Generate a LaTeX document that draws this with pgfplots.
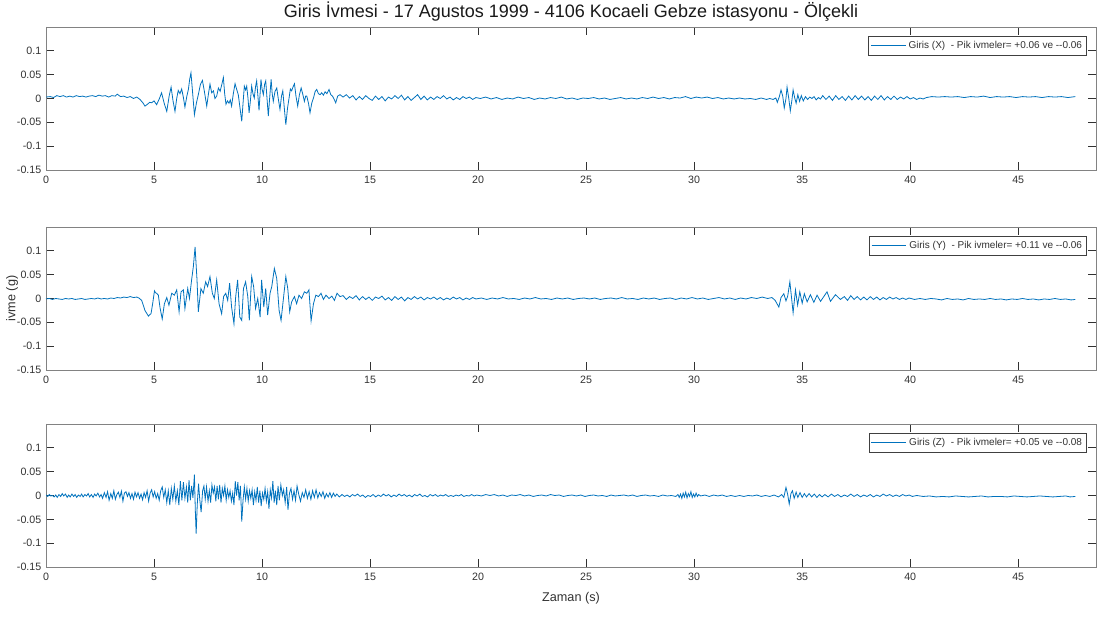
\documentclass[border=0pt]{standalone}
\usepackage{fontspec}
\setmainfont{Liberation Sans}
\usepackage{pgfplots}
\pgfplotsset{compat=1.18}
\definecolor{mblue}{RGB}{0,114,189}
\definecolor{axgray}{RGB}{130,130,130}
\definecolor{txtgray}{RGB}{50,50,50}
\pgfplotsset{
  sub/.style={
    scale only axis, width=787.5pt, height=107.25pt,
    xmin=0, xmax=48.6, ymin=-0.15, ymax=0.15,
    xtick={0,5,10,15,20,25,30,35,40,45},
    xticklabels={0,5,10,15,20,25,30,35,40,45},
    ytick={-0.15,-0.1,-0.05,0,0.05,0.1},
    yticklabels={-0.15,-0.1,-0.05,0,0.05,0.1},
    tick align=inside, major tick length=6pt,
    axis line style={axgray, line width=0.6pt},
    every tick/.style={txtgray, line width=0.5pt},
    tick label style={font=\fontsize{8}{9}\selectfont, text=txtgray},
    xticklabel style={yshift=-1pt},
    legend cell align=left,
    legend style={draw=black!75, line width=0.4pt, fill=white, font=\fontsize{7.5}{9}\selectfont, text=txtgray,
      at={(0.9914,0.937)}, anchor=north east, inner sep=1.5pt, row sep=0pt},
    legend image code/.code={\pgfsetstrokecolor{mblue}\draw[color=mblue, draw=mblue, line width=0.7pt] (0pt,0.3pt) -- (26pt,0.3pt);},
    cycle list={{mblue, no markers, line width=0.6pt, line join=round}},
  }
}
\begin{document}
\begin{tikzpicture}
\useasboundingbox (0,0) rectangle (828pt,462.75pt);
% ---------------- X ----------------
\begin{axis}[sub, at={(34.5pt,335.25pt)}, anchor=south west,
  title={Giris İvmesi - 17 Agustos 1999 - 4106 Kocaeli Gebze istasyonu - Ölçekli},
  every axis title/.style={at={(axis description cs:0.5,1.105)}, anchor=center, font=\fontsize{13.5}{15}\selectfont, text=black!90}]
\addplot+[mblue, no markers, line width=0.6pt] coordinates {
(0,0.003) (0.2,0.004) (0.35,0.002) (0.5,0.006) (0.65,0.004) (0.8,0.006) (0.95,0.003) (1.1,0.005) (1.25,0.003) (1.4,0.006)
(1.55,0.004) (1.7,0.005) (1.85,0.003) (2.0,0.005) (2.15,0.006) (2.3,0.004) (2.45,0.007) (2.6,0.005) (2.75,0.006) (2.9,0.003)
(3.05,0.006) (3.2,0.005) (3.3,0.009) (3.45,0.004) (3.6,0.005) (3.75,0.002) (3.9,0.004) (4.05,0.000) (4.2,0.003) (4.35,-0.002)
(4.5,-0.010) (4.58,-0.016) (4.70,-0.012) (4.80,-0.008) (4.89,-0.009) (5.00,-0.005) (5.12,-0.013) (5.25,0.000) (5.35,0.012)
(5.47,-0.010) (5.59,-0.027) (5.70,0.005) (5.79,0.024) (5.88,-0.005) (5.97,-0.027) (6.05,0.000) (6.12,0.017) (6.20,0.010)
(6.28,0.020) (6.36,0.002) (6.43,-0.018) (6.52,0.005) (6.59,0.019) (6.65,0.040) (6.71,0.054) (6.79,0.010) (6.87,-0.034)
(6.96,-0.010) (7.05,0.008) (7.15,0.030) (7.24,0.038) (7.33,0.015) (7.44,-0.016) (7.52,0.010) (7.59,0.030) (7.67,0.012)
(7.75,0.016) (7.82,0.000) (7.90,0.005) (7.98,0.022) (8.06,0.015) (8.14,0.030) (8.21,0.044) (8.27,0.010) (8.33,-0.012)
(8.40,-0.005) (8.47,-0.010) (8.53,-0.003) (8.59,-0.016) (8.67,0.010) (8.75,0.031) (8.82,0.020) (8.90,0.008) (8.98,-0.020)
(9.06,-0.048) (9.12,-0.010) (9.18,0.026) (9.24,0.018) (9.29,0.026) (9.35,0.000) (9.40,-0.030) (9.46,-0.005) (9.52,0.026)
(9.58,0.010) (9.64,0.001) (9.70,0.025) (9.75,0.037) (9.80,0.010) (9.86,-0.025) (9.91,0.010) (9.95,0.040) (10.00,0.020)
(10.06,0.008) (10.12,0.030) (10.17,0.037) (10.23,0.000) (10.29,-0.037) (10.35,0.000) (10.42,0.040) (10.47,0.010)
(10.52,-0.006) (10.60,0.015) (10.68,0.022) (10.75,0.000) (10.83,-0.023) (10.90,0.005) (10.96,0.016) (11.03,-0.020)
(11.10,-0.055) (11.18,-0.020) (11.25,0.001) (11.31,0.020) (11.37,0.016) (11.44,0.025) (11.50,0.031) (11.57,0.005)
(11.65,-0.016) (11.73,0.008) (11.81,0.022) (11.88,0.010) (11.96,-0.006) (12.02,0.005) (12.07,0.005) (12.15,-0.010)
(12.22,-0.030) (12.30,-0.010) (12.38,0.001) (12.46,0.015) (12.53,0.019) (12.61,0.010) (12.69,0.008) (12.76,0.012)
(12.84,0.007) (12.92,0.014) (13.00,0.010) (13.10,0.019) (13.18,0.008) (13.26,0.005) (13.34,-0.002) (13.41,-0.009)
(13.50,0.005) (13.61,0.008) (13.75,0.003) (13.9,0.008) (14.05,0.001) (14.2,0.006) (14.35,-0.003) (14.5,0.004) (14.65,-0.002)
(14.8,0.006) (14.95,0.000) (15.1,-0.004) (15.25,0.005) (15.4,-0.002) (15.55,0.004) (15.7,-0.005) (15.85,0.003) (16.0,-0.001)
(16.15,0.006) (16.3,0.000) (16.45,0.007) (16.6,-0.003) (16.75,0.004) (16.9,-0.004) (17.05,0.002) (17.2,0.008) (17.35,-0.002)
(17.5,0.005) (17.65,-0.003) (17.8,0.003) (17.95,-0.002) (18.1,0.004) (18.25,0.000) (18.4,0.006) (18.55,-0.001) (18.7,0.003)
(18.85,-0.003) (19.0,0.002) (19.15,-0.002) (19.3,0.004) (19.45,0.000) (19.6,0.003) (19.75,-0.002) (19.9,0.002)
(20.1,0.000) (20.35,0.003) (20.6,-0.001) (20.85,0.002) (21.1,-0.002) (21.35,0.001) (21.6,-0.001) (21.85,0.003) (22.1,0.000)
(22.35,0.002) (22.6,-0.002) (22.85,0.001) (23.1,-0.001) (23.35,0.002) (23.6,0.000) (23.85,0.003) (24.1,-0.001) (24.35,0.001)
(24.6,-0.002) (24.85,0.001) (25.1,0.000) (25.35,0.002) (25.6,-0.001) (25.85,0.001) (26.1,-0.002) (26.35,0.000) (26.6,0.002)
(26.85,-0.001) (27.1,0.001) (27.35,-0.001) (27.6,0.002) (27.85,0.000) (28.1,0.003) (28.35,0.000) (28.6,0.002) (28.85,-0.001)
(29.1,0.002) (29.35,0.001) (29.6,0.004) (29.85,0.000) (30.1,0.003) (30.35,0.001) (30.6,0.003) (30.85,0.000) (31.1,0.002)
(31.35,-0.001) (31.6,0.001) (31.85,-0.001) (32.1,0.001) (32.35,-0.001) (32.6,0.000) (32.85,-0.002) (33.1,0.001) (33.35,-0.002)
(33.5,0.000) (33.65,-0.002) (33.78,0.001) (33.85,-0.008) (33.95,0.005) (34.02,0.018) (34.10,0.005) (34.17,-0.020) (34.25,0.000)
(34.30,0.024) (34.38,0.000) (34.45,-0.026) (34.52,-0.005) (34.58,0.018) (34.65,0.002) (34.72,-0.010) (34.80,0.008)
(34.88,-0.006) (34.96,0.006) (35.05,-0.005) (35.15,0.004) (35.25,-0.002) (35.35,0.003) (35.45,0.000) (35.55,0.004)
(35.65,-0.003) (35.75,0.002) (35.85,-0.001) (35.95,0.006) (36.1,-0.002) (36.25,0.005) (36.4,-0.004) (36.55,0.006) (36.7,-0.002)
(36.85,0.004) (37.0,-0.004) (37.15,0.005) (37.3,-0.003) (37.45,0.006) (37.6,-0.002) (37.75,0.005) (37.9,-0.003) (38.05,0.004)
(38.2,-0.004) (38.35,0.005) (38.5,-0.002) (38.65,0.006) (38.8,-0.003) (38.95,0.004) (39.1,-0.002) (39.25,0.005) (39.4,-0.002)
(39.55,0.003) (39.7,-0.001) (39.85,0.004) (40.0,-0.001) (40.15,0.002) (40.3,-0.002) (40.45,0.001) (40.6,-0.001) (40.75,0.002)
(41.0,0.004) (41.3,0.003) (41.6,0.004) (41.9,0.003) (42.2,0.004) (42.5,0.002) (42.8,0.004) (43.1,0.003) (43.4,0.005)
(43.7,0.002) (44.0,0.004) (44.3,0.003) (44.6,0.004) (44.9,0.002) (45.2,0.004) (45.5,0.003) (45.8,0.004) (46.1,0.002)
(46.4,0.004) (46.7,0.003) (47.0,0.004) (47.3,0.002) (47.64,0.004)
};
\addlegendentry{Giris (X)~ - Pik ivmeler= +0.06 ve -\kern0pt-0.06}
\end{axis}
% ---------------- Y ----------------
\begin{axis}[sub, at={(34.5pt,185.25pt)}, anchor=south west,
  ylabel={ivme (g)},
  ylabel style={at={(axis description cs:-0.0324,0.5)}, anchor=center, font=\fontsize{9.5}{11}\selectfont, text=txtgray}]
\addplot+[mblue, no markers, line width=0.6pt] coordinates {
(0.00,-0.001) (0.15,0.000) (0.3,-0.002) (0.45,0.000) (0.6,-0.001) (0.75,-0.002) (0.9,0.000) (1.05,-0.001) (1.2,0.000)
(1.35,-0.002) (1.5,-0.001) (1.65,0.000) (1.8,-0.002) (1.95,-0.001) (2.1,0.000) (2.25,-0.001) (2.4,0.001) (2.55,-0.001)
(2.7,0.000) (2.85,-0.001) (3.0,0.001) (3.15,0.000) (3.3,0.002) (3.45,0.001) (3.6,0.003) (3.75,0.002) (3.9,0.004) (4.05,0.002)
(4.2,0.003) (4.3,0.001) (4.43,-0.004) (4.58,-0.025) (4.74,-0.037) (4.80,-0.034) (4.86,-0.032) (4.94,-0.010) (5.02,0.016)
(5.07,0.012) (5.12,0.011) (5.20,0.007) (5.28,-0.020) (5.38,-0.043) (5.48,-0.011) (5.59,0.002) (5.69,-0.014) (5.82,0.011)
(5.94,0.007) (6.05,0.018) (6.16,-0.028) (6.25,0.014) (6.36,0.018) (6.43,-0.021) (6.56,0.021) (6.64,0.000) (6.74,0.039)
(6.82,0.067) (6.90,0.108) (6.99,0.039) (7.05,-0.028) (7.17,0.021) (7.28,0.011) (7.39,0.035) (7.48,0.025) (7.59,0.046)
(7.70,0.011) (7.79,0.000) (7.90,0.039) (8.01,-0.011) (8.13,-0.032) (8.22,0.004) (8.32,0.011) (8.41,-0.004) (8.50,0.032)
(8.59,-0.018) (8.70,-0.053) (8.78,0.004) (8.87,0.039) (8.97,-0.039) (9.06,-0.046) (9.14,0.021) (9.24,0.035) (9.34,0.004)
(9.41,-0.046) (9.52,0.046) (9.61,0.025) (9.70,-0.021) (9.80,0.000) (9.91,-0.039) (9.98,0.039) (10.08,-0.018) (10.17,0.021)
(10.26,-0.035) (10.37,0.011) (10.45,0.025) (10.57,0.063) (10.68,0.042) (10.79,-0.025) (10.88,-0.046) (10.99,0.000)
(11.10,0.046) (11.19,0.021) (11.28,-0.028) (11.37,-0.007) (11.50,0.004) (11.60,-0.011) (11.71,0.007) (11.83,0.000)
(11.96,0.014) (12.07,0.011) (12.17,0.018) (12.27,-0.047) (12.38,-0.011) (12.49,0.007) (12.61,0.004) (12.73,0.011)
(12.84,-0.002) (12.96,0.007) (13.10,0.000) (13.23,0.005) (13.35,-0.004) (13.47,0.011) (13.61,0.004)
(13.75,0.006) (13.9,-0.002) (14.05,0.004) (14.2,0.000) (14.35,0.006) (14.5,-0.003) (14.65,0.004) (14.8,-0.002) (14.95,0.003)
(15.1,-0.004) (15.25,0.003) (15.4,0.000) (15.55,0.005) (15.7,-0.003) (15.85,0.002) (16.0,-0.004) (16.15,0.004) (16.3,-0.002)
(16.45,0.003) (16.6,-0.005) (16.75,0.002) (16.9,-0.002) (17.05,0.004) (17.2,-0.001) (17.35,0.003) (17.5,-0.003) (17.65,0.002)
(17.8,-0.001) (17.95,0.003) (18.1,-0.002) (18.25,0.002) (18.4,-0.003) (18.55,0.001) (18.7,-0.002) (18.85,0.003) (19.0,-0.001)
(19.15,0.002) (19.3,-0.003) (19.45,0.001) (19.6,-0.002) (19.75,0.002) (19.9,-0.001)
(20.15,0.001) (20.4,-0.002) (20.65,0.001) (20.9,-0.001) (21.15,0.002) (21.4,-0.001) (21.65,0.000) (21.9,-0.002) (22.15,0.001)
(22.4,-0.001) (22.65,0.002) (22.9,-0.001) (23.15,0.000) (23.4,-0.002) (23.65,0.001) (23.9,-0.001) (24.15,0.001) (24.4,-0.002)
(24.65,0.000) (24.9,0.001) (25.15,-0.001) (25.4,0.001) (25.65,-0.002) (25.9,0.000) (26.15,0.001) (26.4,-0.001) (26.65,0.002)
(26.9,-0.001) (27.15,0.000) (27.4,-0.002) (27.65,0.001) (27.9,-0.001) (28.15,0.001) (28.4,-0.002) (28.65,0.000) (28.9,0.001)
(29.15,-0.002) (29.4,0.001) (29.65,-0.001) (29.9,0.002) (30.15,-0.001) (30.4,0.001) (30.65,-0.002) (30.9,0.000) (31.15,0.002)
(31.4,-0.001) (31.65,0.001) (31.9,-0.002) (32.15,0.001) (32.4,-0.001) (32.65,0.002) (32.9,0.000) (33.15,0.003) (33.4,0.000)
(33.6,0.002) (33.75,-0.004) (33.92,-0.018) (34.02,0.002) (34.15,0.010) (34.25,-0.005) (34.33,0.005) (34.43,0.035) (34.50,0.005)
(34.58,-0.030) (34.69,0.018) (34.79,-0.014) (34.89,0.014) (35.00,-0.010) (35.10,0.010) (35.23,-0.007) (35.38,0.008)
(35.54,-0.008) (35.69,0.007) (35.85,-0.006) (36.00,0.004) (36.15,0.014) (36.31,-0.006) (36.54,0.008) (36.77,-0.002)
(36.95,0.004) (37.1,-0.004) (37.25,0.006) (37.4,-0.002) (37.55,0.004) (37.7,-0.003) (37.85,0.003) (38.0,-0.003) (38.15,0.004)
(38.3,-0.002) (38.45,0.003) (38.6,-0.003) (38.75,0.002) (38.9,-0.002) (39.05,0.003) (39.2,-0.001) (39.35,0.002) (39.5,-0.002)
(39.65,0.001) (39.8,-0.002) (39.95,0.001) (40.2,-0.002) (40.45,0.000) (40.7,-0.002) (40.95,0.000) (41.2,-0.001) (41.45,-0.003)
(41.7,0.000) (41.95,-0.002) (42.2,-0.001) (42.45,-0.003) (42.7,0.000) (42.95,-0.002) (43.2,-0.001) (43.45,-0.002) (43.7,0.000)
(43.95,-0.002) (44.2,-0.001) (44.45,-0.003) (44.7,-0.001) (44.95,-0.002) (45.2,0.000) (45.45,-0.002) (45.7,-0.001)
(45.95,-0.003) (46.2,-0.001) (46.45,-0.002) (46.7,0.000) (46.95,-0.002) (47.2,-0.001) (47.45,-0.003) (47.64,-0.002)
};
\addlegendentry{Giris (Y)~ - Pik ivmeler= +0.11 ve -\kern0pt-0.06}
\end{axis}
% ---------------- Z ----------------
\begin{axis}[sub, at={(34.5pt,37.5pt)}, anchor=south west,
  xlabel={Zaman (s)},
  xlabel style={at={(axis description cs:0.5,-0.217)}, anchor=center, font=\fontsize{9.5}{11}\selectfont, text=txtgray}]
\addplot+[mblue, no markers, line width=0.6pt] coordinates {
(0.00,0.001) (0.08,-0.002) (0.15,0.002) (0.22,-0.001) (0.30,0.000) (0.38,-0.003) (0.45,0.001) (0.52,-0.004) (0.60,0.002)
(0.68,-0.002) (0.75,0.004) (0.82,-0.001) (0.90,0.003) (0.98,-0.004) (1.05,0.001) (1.12,-0.003) (1.20,0.003) (1.28,-0.002)
(1.35,0.002) (1.42,-0.004) (1.50,0.001) (1.58,-0.002) (1.65,0.003) (1.72,-0.003) (1.80,0.002) (1.88,-0.001) (1.95,0.004)
(2.02,-0.003) (2.10,0.002) (2.18,-0.004) (2.25,0.003) (2.32,-0.001) (2.40,0.005) (2.48,-0.003) (2.55,0.002)
(2.62,-0.006) (2.70,0.006) (2.78,-0.004) (2.85,0.008) (2.92,-0.010) (3.00,0.004) (3.07,-0.006) (3.14,0.010) (3.21,-0.008)
(3.28,0.002) (3.35,0.007) (3.42,-0.004) (3.49,0.009) (3.56,-0.012) (3.63,0.005) (3.70,0.008) (3.77,-0.002) (3.84,0.006)
(3.91,-0.006) (3.98,0.004) (4.05,-0.008) (4.12,0.007) (4.19,-0.003) (4.26,0.006) (4.33,-0.006) (4.40,0.003) (4.47,-0.009)
(4.54,0.006) (4.61,-0.004) (4.68,0.010) (4.75,-0.012) (4.82,0.005) (4.89,0.012) (4.96,-0.003) (5.03,0.008) (5.10,-0.006)
(5.17,0.004) (5.24,-0.010) (5.31,0.010) (5.38,0.018) (5.45,-0.004) (5.52,0.012) (5.59,-0.015) (5.66,0.010) (5.73,-0.020)
(5.80,0.015) (5.87,-0.008) (5.94,0.020) (6.01,-0.012) (6.08,0.010) (6.15,-0.020) (6.22,0.030) (6.29,-0.010) (6.36,0.028)
(6.43,-0.006) (6.50,0.018) (6.56,-0.015) (6.62,0.032) (6.68,-0.010) (6.74,0.020) (6.80,-0.005) (6.87,0.044) (6.91,-0.030)
(6.95,-0.080) (7.00,-0.020) (7.06,0.025) (7.12,-0.010) (7.18,-0.035) (7.25,0.010) (7.31,0.020) (7.37,-0.008) (7.43,0.018)
(7.50,-0.012) (7.56,0.010) (7.62,-0.015) (7.68,0.022) (7.74,0.005) (7.80,0.018) (7.86,-0.012) (7.92,0.020) (7.98,-0.008)
(8.04,0.022) (8.10,-0.015) (8.16,0.015) (8.22,0.000) (8.28,0.020) (8.34,-0.010) (8.40,0.012) (8.46,-0.004) (8.52,0.010)
(8.58,-0.012) (8.64,0.005) (8.70,-0.020) (8.76,0.030) (8.82,0.000) (8.88,0.028) (8.94,-0.010) (9.00,0.020) (9.06,-0.055)
(9.12,-0.010) (9.18,0.018) (9.24,-0.008) (9.30,0.015) (9.36,-0.012) (9.42,0.010) (9.48,-0.006) (9.54,0.012) (9.60,-0.020)
(9.66,0.008) (9.72,-0.010) (9.78,0.018) (9.84,-0.015) (9.90,0.010) (9.96,-0.022) (10.02,0.005) (10.08,-0.008) (10.14,0.015)
(10.20,-0.012) (10.26,0.008) (10.32,-0.028) (10.38,0.012) (10.44,-0.005) (10.50,0.030) (10.56,-0.015) (10.62,0.010)
(10.68,-0.020) (10.74,0.020) (10.80,-0.010) (10.87,0.022) (10.94,0.000) (11.00,0.012) (11.07,-0.015) (11.14,0.018)
(11.20,-0.030) (11.27,0.005) (11.34,0.015) (11.41,-0.008) (11.48,0.010) (11.55,-0.010) (11.62,0.020) (11.70,0.002)
(11.78,-0.012) (11.86,0.006) (11.94,-0.004) (12.02,0.012) (12.10,-0.006) (12.18,0.008) (12.26,-0.008) (12.34,0.010)
(12.42,-0.004) (12.50,0.012) (12.58,-0.005) (12.66,0.006) (12.74,-0.002) (12.82,0.008) (12.90,-0.006) (12.98,0.004)
(13.06,-0.003) (13.14,0.006) (13.22,-0.004) (13.30,0.005) (13.38,-0.002) (13.46,0.003)
(13.58,-0.003) (13.70,0.002) (13.82,-0.002) (13.94,0.001) (14.06,-0.003) (14.18,0.002) (14.30,-0.001) (14.42,0.003)
(14.54,-0.002) (14.66,0.001) (14.78,-0.004) (14.90,0.000) (15.02,-0.002) (15.14,0.002) (15.26,-0.003) (15.38,0.001)
(15.50,-0.002) (15.62,0.003) (15.74,-0.001) (15.86,0.002) (15.98,-0.003) (16.10,0.001) (16.22,-0.002) (16.34,0.003)
(16.46,-0.001) (16.58,0.002) (16.70,-0.002) (16.82,0.001) (16.94,-0.003) (17.06,0.002) (17.18,-0.001) (17.30,0.003)
(17.42,-0.002) (17.54,0.000) (17.66,-0.003) (17.78,0.002) (17.90,-0.001) (18.02,0.002) (18.14,-0.002) (18.26,0.001)
(18.38,-0.001) (18.50,0.002) (18.62,-0.002) (18.74,0.000) (18.86,-0.002) (18.98,0.001) (19.10,-0.001) (19.22,0.002)
(19.34,-0.002) (19.46,0.000) (19.58,-0.001) (19.70,0.002) (19.82,-0.001) (19.94,0.001)
(20.15,-0.001) (20.35,0.002) (20.55,0.000) (20.75,0.002) (20.95,-0.001) (21.15,0.001) (21.35,-0.002) (21.55,0.001)
(21.75,0.000) (21.95,0.002) (22.15,-0.001) (22.35,0.001) (22.55,-0.002) (22.75,0.000) (22.95,0.001) (23.15,-0.001)
(23.35,0.002) (23.55,0.000) (23.75,0.001) (23.95,-0.002) (24.15,0.000) (24.35,0.001) (24.55,-0.001) (24.75,0.001)
(24.95,-0.002) (25.15,0.000) (25.35,0.001) (25.55,-0.001) (25.75,0.000) (25.95,-0.002) (26.15,0.001) (26.35,-0.001)
(26.55,0.000) (26.75,0.001) (26.95,-0.001) (27.15,0.001) (27.35,-0.002) (27.55,0.000) (27.75,0.001) (27.95,-0.001)
(28.15,0.000) (28.35,-0.002) (28.55,0.001) (28.75,-0.001) (28.95,0.000) (29.15,-0.002)
(29.25,0.002) (29.31,-0.004) (29.37,0.003) (29.43,-0.006) (29.49,0.005) (29.55,-0.003) (29.61,0.007) (29.67,-0.005)
(29.73,0.004) (29.79,-0.002) (29.85,0.008) (29.91,-0.004) (29.97,0.003) (30.03,-0.003) (30.09,0.005) (30.15,-0.002)
(30.21,0.002) (30.30,-0.001) (30.5,0.001) (30.7,-0.002) (30.9,0.001) (31.1,-0.001) (31.3,0.001) (31.5,-0.002) (31.7,0.000)
(31.9,-0.002) (32.1,0.000) (32.3,-0.002) (32.5,0.000) (32.7,-0.001) (32.9,0.001) (33.1,-0.002) (33.3,0.000) (33.5,-0.002)
(33.7,0.001) (33.9,-0.003) (34.05,0.002) (34.15,-0.004) (34.25,0.017) (34.33,0.002) (34.40,-0.018) (34.48,0.004)
(34.55,0.010) (34.63,-0.006) (34.72,0.007) (34.80,-0.004) (34.90,0.006) (35.00,-0.004) (35.10,0.004) (35.20,-0.003)
(35.32,0.004) (35.44,-0.003) (35.56,0.003) (35.68,-0.004) (35.80,0.002) (35.92,-0.003)
(36.05,0.002) (36.2,-0.003) (36.35,0.003) (36.5,-0.002) (36.65,0.002) (36.8,-0.003) (36.95,0.001) (37.1,-0.002) (37.25,0.003)
(37.4,-0.002) (37.55,0.002) (37.7,-0.003) (37.85,0.001) (38.0,-0.002) (38.15,0.002) (38.3,-0.003) (38.45,0.001) (38.6,-0.002)
(38.75,0.003) (38.9,-0.001) (39.05,0.002) (39.2,-0.002) (39.35,0.001) (39.5,-0.002) (39.65,0.002) (39.8,-0.001) (39.95,0.001)
(40.1,-0.002) (40.3,0.000) (40.6,-0.002) (40.9,-0.001) (41.2,-0.003) (41.5,-0.002) (41.8,-0.003) (42.1,-0.001) (42.4,-0.002)
(42.7,-0.003) (43.0,-0.002) (43.3,-0.001) (43.6,-0.003) (43.9,-0.002) (44.2,-0.002) (44.5,-0.003) (44.8,-0.001) (45.1,-0.002)
(45.4,-0.003) (45.7,-0.002) (46.0,-0.001) (46.3,-0.002) (46.6,-0.003) (46.9,-0.002) (47.2,-0.001) (47.4,-0.003) (47.64,-0.002)
};
\addlegendentry{Giris (Z)~ - Pik ivmeler= +0.05 ve -\kern0pt-0.08}
\end{axis}
\end{tikzpicture}
\end{document}
